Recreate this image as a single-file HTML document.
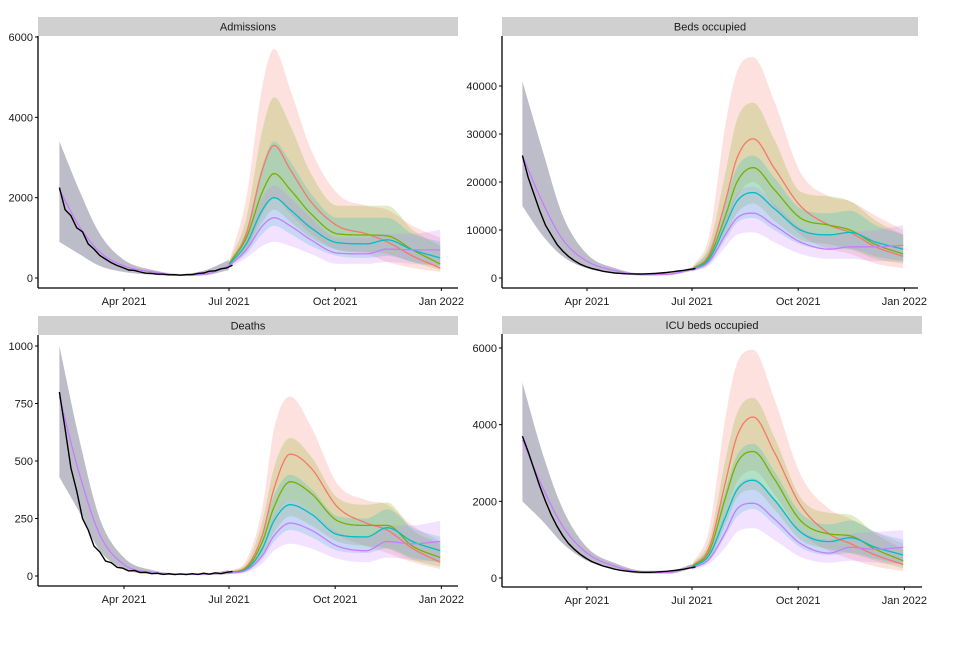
<!DOCTYPE html>
<html><head><meta charset="utf-8">
<style>
body{margin:0;background:#fff;width:960px;height:640px;overflow:hidden;font-family:"Liberation Sans",sans-serif}
svg text{font-family:"Liberation Sans",sans-serif}
</style></head>
<body>
<svg id="c" width="960" height="640"></svg>
<script>
// shared x dates (day of year 2021, Jan1=0)
const preDays=[34,51,69,90,115,140,161,181];
const postDays=[181,196,210,220,234,252,275,300,318,340,364];
const obsStart=34, obsStep=5;
const xTickDays=[90,181,273,365];
const xTickLabels=["Apr 2021","Jul 2021","Oct 2021","Jan 2022"];
const scenarioColors=["#F8766D","#7CAE00","#00BFC4","#C77CFF"];

// Admissions
const admTicks=[0,2000,4000,6000];
const admPreMed=[2200,1300,650,300,150,70,100,300];
const admPreHi=[3400,2200,1100,450,200,100,200,450];
const admPreLo=[900,600,300,150,80,50,70,200];
const admObs=[2250,1700,1550,1250,1150,850,720,560,470,380,310,260,200,190,150,120,115,95,95,80,82,70,85,85,115,125,170,180,230,250,320];
const admMed=[[350,1100,2700,3300,2700,1900,1300,1100,900,550,250],[350,1000,2150,2600,2200,1600,1100,1070,1050,700,350],[330,850,1700,2000,1700,1250,880,850,950,700,500],[300,700,1300,1500,1300,950,620,600,720,700,700]];
const admHi=[[400,2000,4800,5700,4700,3200,2100,1800,1700,1300,1000],[400,1500,3700,4500,3800,2600,1800,1800,1800,1200,800],[380,1200,2800,3400,2900,2100,1500,1500,1500,1100,900],[350,1000,2000,2300,2000,1500,1000,1000,1100,1100,1200]];
const admLo=[[300,700,1600,2000,1600,1100,700,600,400,250,150],[300,700,1400,1700,1400,1000,700,650,600,400,200],[280,600,1100,1300,1100,800,550,500,550,400,300],[250,500,800,900,800,600,350,350,400,350,300]];

// Beds occupied
const bedTicks=[0,10000,20000,30000,40000];
const bedPreMed=[25500,16000,8000,3500,1500,700,800,1800];
const bedPreHi=[41000,27000,13000,5000,2000,900,1000,2200];
const bedPreLo=[15000,9000,4500,2000,1000,500,600,1500];
const bedObs=[25500,21000,17500,14000,11000,9000,7000,5600,4500,3600,2900,2400,2000,1700,1400,1200,1050,950,880,850,830,850,900,950,1050,1150,1300,1450,1600,1800,1950];
const bedMed=[[1800,5000,16000,25000,29000,23000,15000,11000,9500,6500,4500],[1800,4500,13000,20000,23000,18500,12500,11000,10000,7000,5000],[1700,4000,11000,16000,17800,14500,10000,9000,9500,7500,6000],[1600,3500,9000,12500,13500,11000,7500,6000,6500,6500,6800]];
const bedHi=[[2200,9000,32000,43000,46000,37000,22000,17000,16000,13000,10000],[2100,7000,22000,33000,36500,29000,18000,17000,16000,12000,9000],[2000,6000,16000,23000,25500,21000,14500,13500,14000,11000,9000],[1900,5000,12500,17500,19000,15500,10500,9000,9500,10000,11000]];
const bedLo=[[1500,3500,11000,17000,20000,15000,9000,6000,5000,3000,2000],[1500,3200,9000,13500,15500,12000,8000,7000,6000,4000,3000],[1400,3000,8000,11500,12500,10000,7000,6000,6000,4500,3500],[1300,2600,6500,9000,9500,7500,5000,4000,4000,3500,3500]];

// Deaths
const dthTicks=[0,250,500,750,1000];
const dthPreMed=[780,450,180,50,15,8,8,15];
const dthPreHi=[1000,600,250,80,25,12,12,25];
const dthPreLo=[430,280,110,30,8,4,4,8];
const dthObs=[800,640,470,370,250,200,130,105,65,58,38,34,22,24,15,16,10,12,7,10,6,9,6,10,7,12,8,14,10,16,20];
const dthMed=[[15,40,180,380,530,470,300,230,200,120,60],[15,35,150,300,410,360,240,220,220,130,80],[14,30,120,240,310,270,180,170,210,150,110],[12,25,90,175,230,200,130,110,150,140,150]];
const dthHi=[[20,70,300,640,780,650,400,330,310,220,150],[20,55,240,470,600,520,340,310,320,200,140],[18,45,180,350,440,380,260,250,290,210,170],[16,35,130,260,330,280,190,170,220,220,240]];
const dthLo=[[10,25,110,250,330,280,180,130,100,60,30],[10,22,95,190,260,220,150,130,120,70,40],[10,20,75,150,200,170,110,100,120,80,60],[8,15,55,110,140,120,75,60,80,70,60]];

// ICU beds occupied
const icuTicks=[0,2000,4000,6000];
const icuPreMed=[3600,2400,1350,650,300,150,150,300];
const icuPreHi=[5100,3300,1800,800,380,190,190,360];
const icuPreLo=[2000,1500,900,450,220,110,110,250];
const icuObs=[3700,3300,2850,2400,2000,1650,1350,1100,900,750,620,520,430,370,310,270,230,200,180,165,155,150,150,155,165,175,190,210,230,260,290];
const icuMed=[[300,800,2500,3700,4200,3300,1900,1150,900,600,350],[300,700,2100,3000,3300,2600,1500,1150,1100,750,450],[280,600,1600,2300,2550,2050,1200,950,1050,800,600],[250,500,1200,1800,1950,1550,900,650,800,750,800]];
const icuHi=[[350,1300,4200,5600,5950,4700,2700,1800,1550,1200,900],[350,1000,3100,4300,4700,3700,2100,1700,1650,1150,750],[330,850,2300,3200,3500,2800,1700,1400,1500,1200,1000],[300,700,1700,2400,2600,2100,1250,1000,1150,1200,1250]];
const icuLo=[[250,600,1700,2500,2800,2200,1200,700,500,300,180],[250,500,1400,2100,2300,1800,1000,750,650,450,250],[230,450,1100,1600,1800,1400,800,600,650,500,350],[200,380,800,1200,1300,1000,550,400,450,400,350]];

const NS="http://www.w3.org/2000/svg";
const svg=document.getElementById('c');
function mk(tag,attrs,parent){const e=document.createElementNS(NS,tag);for(const k in attrs)e.setAttribute(k,attrs[k]);(parent||svg).appendChild(e);return e;}

// monotone cubic interpolation sample
function mono(xs,ys){
  const n=xs.length,d=[],m=[];
  for(let i=0;i<n-1;i++)d.push((ys[i+1]-ys[i])/(xs[i+1]-xs[i]));
  m[0]=d[0];m[n-1]=d[n-2];
  for(let i=1;i<n-1;i++){m[i]=(d[i-1]*d[i]<=0)?0:(d[i-1]+d[i])/2;}
  for(let i=0;i<n-1;i++){if(d[i]===0){m[i]=0;m[i+1]=0;continue;}const a=m[i]/d[i],b=m[i+1]/d[i],s=a*a+b*b;if(s>9){const t=3/Math.sqrt(s);m[i]=t*a*d[i];m[i+1]=t*b*d[i];}}
  const out=[];
  for(let i=0;i<n-1;i++){const h=xs[i+1]-xs[i];const steps=Math.max(2,Math.round(h));
    for(let k=(i===0?0:1);k<=steps;k++){const t=k/steps,t2=t*t,t3=t2*t;
      const y=(2*t3-3*t2+1)*ys[i]+(t3-2*t2+t)*h*m[i]+(-2*t3+3*t2)*ys[i+1]+(t3-t2)*h*m[i+1];
      out.push([xs[i]+t*h,y]);}}
  return out;
}

function panel(cfg){
  const g=mk('g',{});
  
  
  const X=d=>cfg.xApr+(d-90)*1.154;
  const Y=v=>cfg.y0-(v/cfg.vTop)*(cfg.y0-cfg.yTop);
  const strip=mk('rect',{x:cfg.left,y:cfg.sTop,width:cfg.right-cfg.left,height:cfg.sH,fill:'#d0d0d0'},g);
  
  
  const st=mk('text',{x:(cfg.left+cfg.right)/2,y:cfg.sTop+cfg.sH/2+4,'text-anchor':'middle','font-size':11,fill:'#1a1a1a'},g);
  st.textContent=cfg.title;
  
  
  const ribbon=(xs,lo,hi,fill,op,nm)=>{
    const a=mono(xs,hi),b=mono(xs,lo).reverse();
    const pts=a.concat(b).map(p=>X(p[0]).toFixed(1)+','+Y(p[1]).toFixed(1)).join(' ');
    const e=mk('polygon',{points:pts,fill:fill,'fill-opacity':op},g);
    
    
  };
  const line=(xs,ys,col,w,nm)=>{
    const pts=mono(xs,ys).map(p=>X(p[0]).toFixed(1)+','+Y(p[1]).toFixed(1)).join(' ');
    const e=mk('polyline',{points:pts,fill:'none',stroke:col,'stroke-width':w},g);
    
    
  };
  ribbon(preDays,cfg.preLo,cfg.preHi,'#5a5a78',0.4,cfg.name+'-fit-ribbon');
  for(let s=0;s<4;s++)ribbon(postDays,cfg.lo[s],cfg.hi[s],scenarioColors[s],0.22,cfg.name+'-scenario-ribbon-'+(s+1));
  line(preDays,cfg.preMed,'#C77CFF',1.3,cfg.name+'-fit-line');
  for(let s=0;s<4;s++)line(postDays,cfg.med[s],scenarioColors[s],1.3,cfg.name+'-scenario-line-'+(s+1));
  const op=cfg.obs.map((v,i)=>X(obsStart+i*obsStep).toFixed(1)+','+Y(v).toFixed(1)).join(' ');
  const ol=mk('polyline',{points:op,fill:'none',stroke:'#000','stroke-width':1.4},g);
  
  
  // axes
  const ya=mk('line',{x1:cfg.left,y1:cfg.sTop+cfg.sH,x2:cfg.left,y2:cfg.bottom,stroke:'#000','stroke-width':1.3},g);
  
  
  const xa=mk('line',{x1:cfg.left,y1:cfg.bottom,x2:cfg.right,y2:cfg.bottom,stroke:'#000','stroke-width':1.3},g);
  
  
  cfg.ticks.forEach(v=>{
    mk('line',{x1:cfg.left-3,x2:cfg.left,y1:Y(v),y2:Y(v),stroke:'#000'},g);
    const t=mk('text',{x:cfg.left-5,y:Y(v)+4,'text-anchor':'end','font-size':11,fill:'#1a1a1a'},g);
    t.textContent=v;
    
    
  });
  xTickDays.forEach((d,i)=>{
    mk('line',{x1:X(d),x2:X(d),y1:cfg.bottom,y2:cfg.bottom+3,stroke:'#000'},g);
    const t=mk('text',{x:X(d),y:cfg.bottom+17,'text-anchor':'middle','font-size':11,fill:'#1a1a1a'},g);
    t.textContent=xTickLabels[i];
    
    
  });
}

panel({name:'admissions',title:'Admissions',left:38,right:458,sTop:17,sH:19,bottom:288,xApr:124,y0:278,yTop:37,vTop:6000,ticks:admTicks,preMed:admPreMed,preHi:admPreHi,preLo:admPreLo,obs:admObs,med:admMed,hi:admHi,lo:admLo});
panel({name:'beds',title:'Beds occupied',left:502,right:918,sTop:17,sH:19,bottom:288,xApr:587,y0:278,yTop:86,vTop:40000,ticks:bedTicks,preMed:bedPreMed,preHi:bedPreHi,preLo:bedPreLo,obs:bedObs,med:bedMed,hi:bedHi,lo:bedLo});
panel({name:'deaths',title:'Deaths',left:38,right:458,sTop:316,sH:19,bottom:586,xApr:124,y0:576,yTop:346,vTop:1000,ticks:dthTicks,preMed:dthPreMed,preHi:dthPreHi,preLo:dthPreLo,obs:dthObs,med:dthMed,hi:dthHi,lo:dthLo});
panel({name:'icu',title:'ICU beds occupied',left:502,right:922,sTop:316,sH:18,bottom:587,xApr:587,y0:578,yTop:348,vTop:6000,ticks:icuTicks,preMed:icuPreMed,preHi:icuPreHi,preLo:icuPreLo,obs:icuObs,med:icuMed,hi:icuHi,lo:icuLo});
</script>
</body></html>
